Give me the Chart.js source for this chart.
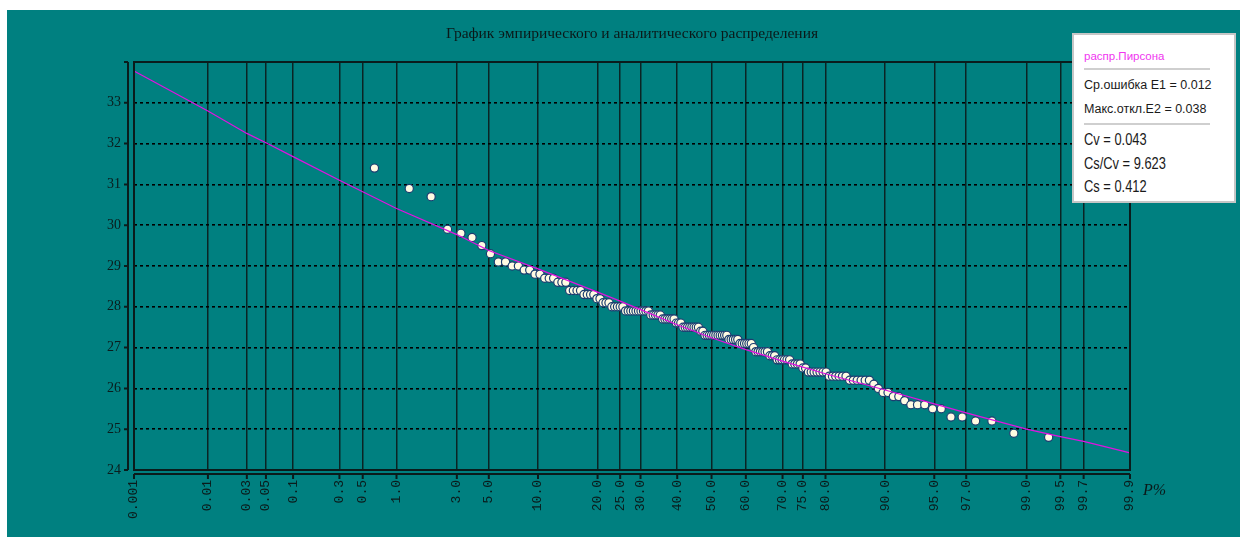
<!DOCTYPE html>
<html lang="ru">
<head>
<meta charset="UTF-8" />
<title>График эмпирического и аналитического распределения</title>
<style>
  body { margin: 0; background: #fff; width: 1245px; height: 541px; position: relative; overflow: hidden; }
  #wrap { position: absolute; left: 7px; top: 10px; width: 1233px; height: 527px; background: #008080; }
  #info {
    position: absolute; left: 1072px; top: 33px; width: 164px; height: 170px;
    box-sizing: border-box; background: #fff; border: 2px solid #c6c6c6;
    font-family: "Liberation Sans", Arial, sans-serif; color: #1a1a1a;
  }
  #info div { position: absolute; left: 10px; white-space: nowrap; line-height: 1; transform-origin: left center; }
  #info .sm { font-size: 12.5px; }
  #info .lg { font-size: 16.5px; transform: scaleX(0.78); }
  #info .sep { height: 2px; width: 126px; background: #cfcfcf; }
</style>
</head>
<body>
<div id="wrap"><canvas id="chart" width="1233" height="527"></canvas></div>
<div id="info">
  <div class="sm" style="top:16px;color:#f035f0;font-size:11.5px">распр.Пирсона</div>
  <div class="sep" style="top:33px"></div>
  <div class="sm" style="top:44px">Ср.ошибка E1 = 0.012</div>
  <div class="sm" style="top:68px">Макс.откл.E2 = 0.038</div>
  <div class="sep" style="top:88px"></div>
  <div class="lg" style="top:96px">Cv = 0.043</div>
  <div class="lg" style="top:120px">Cs/Cv = 9.623</div>
  <div class="lg" style="top:143px">Cs = 0.412</div>
</div>
<script src="https://cdn.jsdelivr.net/npm/chart.js"></script>
<script>
// probability axis ticks (%)
const probTicks = [0.001, 0.01, 0.03, 0.05, 0.1, 0.3, 0.5, 1.0, 3.0, 5.0, 10.0, 20.0, 25.0, 30.0,
  40.0, 50.0, 60.0, 70.0, 75.0, 80.0, 90.0, 95.0, 97.0, 99.0, 99.5, 99.7, 99.9];
const probTickLabels = ["0.001", "0.01", "0.03", "0.05", "0.1", "0.3", "0.5", "1.0", "3.0", "5.0",
  "10.0", "20.0", "25.0", "30.0", "40.0", "50.0", "60.0", "70.0", "75.0", "80.0", "90.0", "95.0",
  "97.0", "99.0", "99.5", "99.7", "99.9"];

// analytical (Pearson III) curve, read at the tick probabilities
const curveValues = [33.78, 32.80, 32.25, 32.02, 31.68, 31.10, 30.82, 30.41, 29.77, 29.38,
  28.93, 28.36, 28.14, 27.93, 27.56, 27.24, 26.95, 26.67, 26.52, 26.36, 25.96, 25.62,
  25.40, 25.00, 24.82, 24.70, 24.42];

// empirical points: exceedance probability (%) and value
const empP = [
  0.64, 1.28, 1.92, 2.56, 3.21, 3.85, 4.49, 5.13, 5.77, 6.41,
  7.05, 7.69, 8.33, 8.97, 9.62, 10.26, 10.90, 11.54, 12.18, 12.82,
  13.46, 14.10, 14.74, 15.38, 16.03, 16.67, 17.31, 17.95, 18.59, 19.23,
  19.87, 20.51, 21.15, 21.79, 22.44, 23.08, 23.72, 24.36, 25.00, 25.64,
  26.28, 26.92, 27.56, 28.21, 28.85, 29.49, 30.13, 30.77, 31.41, 32.05,
  32.69, 33.33, 33.97, 34.62, 35.26, 35.90, 36.54, 37.18, 37.82, 38.46,
  39.10, 39.74, 40.38, 41.03, 41.67, 42.31, 42.95, 43.59, 44.23, 44.87,
  45.51, 46.15, 46.79, 47.44, 48.08, 48.72, 49.36, 50.00, 50.64, 51.28,
  51.92, 52.56, 53.21, 53.85, 54.49, 55.13, 55.77, 56.41, 57.05, 57.69,
  58.33, 58.97, 59.62, 60.26, 60.90, 61.54, 62.18, 62.82, 63.46, 64.10,
  64.74, 65.38, 66.03, 66.67, 67.31, 67.95, 68.59, 69.23, 69.87, 70.51,
  71.15, 71.79, 72.44, 73.08, 73.72, 74.36, 75.00, 75.64, 76.28, 76.92,
  77.56, 78.21, 78.85, 79.49, 80.13, 80.77, 81.41, 82.05, 82.69, 83.33,
  83.97, 84.62, 85.26, 85.90, 86.54, 87.18, 87.82, 88.46, 89.10, 89.74,
  90.38, 91.03, 91.67, 92.31, 92.95, 93.59, 94.23, 94.87, 95.51, 96.15,
  96.79, 97.44, 98.08, 98.72, 99.36];
const empValues = [
  31.4, 30.9, 30.7, 29.9, 29.8, 29.7, 29.5, 29.3, 29.1, 29.1,
  29.0, 29.0, 28.9, 28.9, 28.8, 28.8, 28.7, 28.7, 28.7, 28.6,
  28.6, 28.6, 28.4, 28.4, 28.4, 28.4, 28.3, 28.3, 28.3, 28.3,
  28.2, 28.2, 28.1, 28.1, 28.1, 28.0, 28.0, 28.0, 28.0, 28.0,
  27.9, 27.9, 27.9, 27.9, 27.9, 27.9, 27.9, 27.9, 27.9, 27.9,
  27.8, 27.8, 27.8, 27.8, 27.8, 27.7, 27.7, 27.7, 27.7, 27.7,
  27.7, 27.6, 27.6, 27.6, 27.5, 27.5, 27.5, 27.5, 27.5, 27.5,
  27.5, 27.5, 27.4, 27.4, 27.3, 27.3, 27.3, 27.3, 27.3, 27.3,
  27.3, 27.3, 27.3, 27.3, 27.3, 27.2, 27.2, 27.2, 27.2, 27.2,
  27.1, 27.1, 27.1, 27.1, 27.1, 27.1, 27.0, 26.9, 26.9, 26.9,
  26.9, 26.9, 26.9, 26.8, 26.8, 26.8, 26.7, 26.7, 26.7, 26.7,
  26.7, 26.7, 26.6, 26.6, 26.6, 26.6, 26.5, 26.5, 26.4, 26.4,
  26.4, 26.4, 26.4, 26.4, 26.4, 26.3, 26.3, 26.3, 26.3, 26.3,
  26.3, 26.2, 26.2, 26.2, 26.2, 26.2, 26.2, 26.1, 26.0, 25.9,
  25.9, 25.8, 25.8, 25.7, 25.6, 25.6, 25.6, 25.5, 25.5, 25.3,
  25.3, 25.2, 25.2, 24.9, 24.8];

const yTicks = [24, 25, 26, 27, 28, 29, 30, 31, 32, 33, 34];

// inverse normal cdf (Acklam), used by the probability axis
function probit(pct) {
  const p = pct / 100;
  const a = [-39.69683028665376, 220.9460984245205, -275.9285104469687, 138.3577518672690, -30.66479806614716, 2.506628277459239];
  const b = [-54.47609879822406, 161.5858368580409, -155.6989798598866, 66.80131188771972, -13.28068155288572];
  const c = [-0.007784894002430293, -0.3223964580411365, -2.400758277161838, -2.549732539343734, 4.374664141464968, 2.938163982698783];
  const d = [0.007784695709041462, 0.3224671290700398, 2.445134137142996, 3.754408661907416];
  const lo = 0.02425;
  let q, r;
  if (p < lo) {
    q = Math.sqrt(-2 * Math.log(p));
    return (((((c[0]*q+c[1])*q+c[2])*q+c[3])*q+c[4])*q+c[5]) / ((((d[0]*q+d[1])*q+d[2])*q+d[3])*q+1);
  }
  if (p <= 1 - lo) {
    q = p - 0.5; r = q * q;
    return (((((a[0]*r+a[1])*r+a[2])*r+a[3])*r+a[4])*r+a[5])*q / (((((b[0]*r+b[1])*r+b[2])*r+b[3])*r+b[4])*r+1);
  }
  q = Math.sqrt(-2 * Math.log(1 - p));
  return -(((((c[0]*q+c[1])*q+c[2])*q+c[3])*q+c[4])*q+c[5]) / ((((d[0]*q+d[1])*q+d[2])*q+d[3])*q+1);
}

const LinearBase = Chart.LinearScale || Chart.registry.getScale("linear");
class ProbabilityScale extends LinearBase {
  determineDataLimits() {
    this.min = probit(probTicks[0]);
    this.max = probit(probTicks[probTicks.length - 1]);
  }
  buildTicks() {
    return probTicks.map((v) => ({ value: v }));
  }
  getPixelForValue(v) {
    return super.getPixelForValue(probit(v));
  }
}
ProbabilityScale.id = "probability";
ProbabilityScale.defaults = LinearBase.defaults;
Chart.register(ProbabilityScale);

const dark = "#0a1c1c";

// frame, offset axes, title, P% caption
const decor = {
  id: "decor",
  afterDraw(chart) {
    const { ctx, chartArea: a, scales } = chart;
    ctx.save();
    ctx.strokeStyle = dark;
    ctx.lineWidth = 2;
    ctx.strokeRect(a.left, a.top, a.right - a.left, a.bottom - a.top);

    // y axis line to the left of the frame
    const ax = a.left - 6;
    ctx.beginPath();
    ctx.moveTo(ax, a.top); ctx.lineTo(ax, a.bottom);
    yTicks.forEach((v) => {
      const y = scales.y.getPixelForValue(v);
      ctx.moveTo(ax, y); ctx.lineTo(ax - 4, y);
    });
    // x axis line below the frame
    const ay = a.bottom + 4;
    ctx.moveTo(a.left, ay); ctx.lineTo(a.right, ay);
    probTicks.forEach((v) => {
      const x = scales.x.getPixelForValue(v);
      ctx.moveTo(x, ay); ctx.lineTo(x, ay + 5);
    });
    ctx.stroke();

    ctx.fillStyle = "#0a1919";
    ctx.textAlign = "center";
    ctx.textBaseline = "middle";
    ctx.font = '15.5px "Liberation Serif", "Times New Roman", serif';
    ctx.fillText("График эмпирического и аналитического распределения", (a.left + a.right) / 2, 24);

    ctx.textAlign = "left";
    ctx.font = 'italic 16px "Liberation Serif", "Times New Roman", serif';
    ctx.fillText("P%", a.right + 13, 481);
    ctx.restore();
  },
};

new Chart(document.getElementById("chart"), {
  type: "scatter",
  data: {
    datasets: [
      {
        label: "распр.Пирсона",
        data: probTicks.map((p, i) => ({ x: p, y: curveValues[i] })),
        showLine: true,
        borderColor: "#e012e0",
        borderWidth: 1.2,
        pointRadius: 0,
        tension: 0,
      },
      {
        label: "эмпирическое",
        data: empP.map((p, i) => ({ x: p, y: empValues[i] })),
        showLine: false,
        pointRadius: 4.1,
        pointBorderWidth: 1.2,
        pointBackgroundColor: "#fffbe2",
        pointBorderColor: "#1b3d70",
      },
    ],
  },
  options: {
    responsive: false,
    animation: false,
    layout: { padding: { left: 0, right: 110, top: 52, bottom: 0 } },
    plugins: { legend: { display: false }, tooltip: { enabled: false } },
    scales: {
      x: {
        type: "probability",
        border: { display: false },
        grid: { color: "#0b2424", lineWidth: 1.5, drawTicks: false },
        ticks: {
          autoSkip: false,
          minRotation: 90,
          maxRotation: 90,
          padding: 10,
          color: dark,
          font: { family: '"Liberation Mono", "Courier New", monospace', size: 13 },
          callback: (v, i) => probTickLabels[i],
        },
        afterFit: (s) => { s.height = 67; },
      },
      y: {
        min: 24,
        max: 34,
        border: { display: false, dash: [3, 3] },
        grid: { color: "#000", lineWidth: 1.6, drawTicks: false },
        ticks: {
          stepSize: 1,
          padding: 13,
          color: dark,
          font: { family: '"Liberation Serif", "Times New Roman", serif', size: 14 },
          callback: (v) => (v === 34 ? "" : v),
        },
        afterFit: (s) => { s.width = 127; },
      },
    },
  },
  plugins: [decor],
});
</script>
</body>
</html>
